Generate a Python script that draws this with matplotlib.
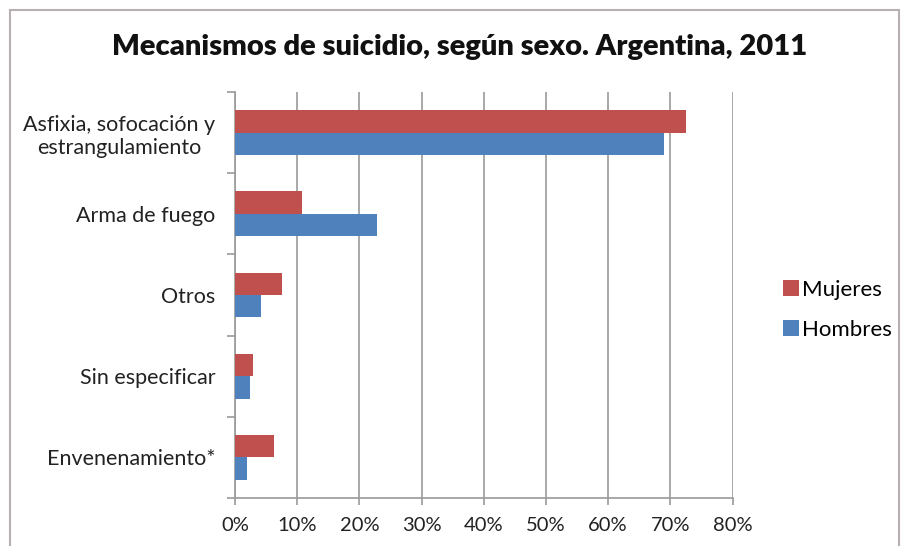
import matplotlib.pyplot as plt
import matplotlib.patches as mpatches
from matplotlib.ticker import MultipleLocator, FuncFormatter
import numpy as np

plt.rcParams['font.family'] = ['Lato', 'DejaVu Sans']

categorias = ['Asfixia, sofocación y\nestrangulamiento', 'Arma de fuego', 'Otros',
              'Sin especificar', 'Envenenamiento*']
mujeres = [72.6, 10.8, 7.5, 2.9, 6.3]
hombres = [69.0, 22.8, 4.2, 2.4, 1.9]

rojo = '#C0504D'
azul = '#4F81BD'
gris = '#9a9a9a'

fig = plt.figure(figsize=(9.01, 5.46), dpi=100)
# marco del grafico
fig.patches.append(mpatches.Rectangle((10 / 901, -0.05), 0.998 - 10 / 901, 1.05 - 10.5 / 546,
                                      transform=fig.transFigure, fill=False,
                                      edgecolor='#b8b0b0', linewidth=1.5))

ax = fig.add_axes([235 / 901, 1 - 498 / 546, (732.5 - 235) / 901, (498 - 92) / 546])

y = np.arange(len(categorias))
h = 0.277
ax.barh(y - h / 2, mujeres, height=h, color=rojo, label='Mujeres', zorder=3)
ax.barh(y + h / 2, hombres, height=h, color=azul, label='Hombres', zorder=3)

ax.set_ylim(len(categorias) - 0.5, -0.5)
ax.set_xlim(0, 80)
ax.set_yticks(y)
ax.set_yticklabels(categorias, fontsize=15.5, color='#222222', multialignment='center')
ax.set_yticks(np.arange(-0.5, len(categorias)), minor=True)
ax.tick_params(axis='y', which='major', length=0, pad=14)
ax.tick_params(axis='y', which='minor', length=6, color=gris, width=1.2)
ax.xaxis.set_major_locator(MultipleLocator(10))
ax.xaxis.set_major_formatter(FuncFormatter(lambda v, p: f'{v:.0f}%'))
ax.tick_params(axis='x', length=5, color=gris, width=1.2, labelsize=14.5, pad=9, labelcolor='#222222')

ax.grid(axis='x', color=gris, linewidth=1.2, zorder=0)
for s in ['top', 'right']:
    ax.spines[s].set_visible(False)
for s in ['left', 'bottom']:
    ax.spines[s].set_color(gris)
    ax.spines[s].set_linewidth(1.2)

fig.text(460 / 901, 1 - 47 / 546, 'Mecanismos de suicidio, según sexo. Argentina, 2011',
         ha='center', va='center', fontsize=21, fontweight='heavy', color='#111111')

fig.legend(loc='center left', bbox_to_anchor=(783 / 901, 1 - 310 / 546), frameon=False,
           fontsize=16, handlelength=0.7, handleheight=0.7, handletextpad=0.15, labelspacing=0.9,
           borderaxespad=0, borderpad=0)

fig.savefig('out.png', dpi=100)
